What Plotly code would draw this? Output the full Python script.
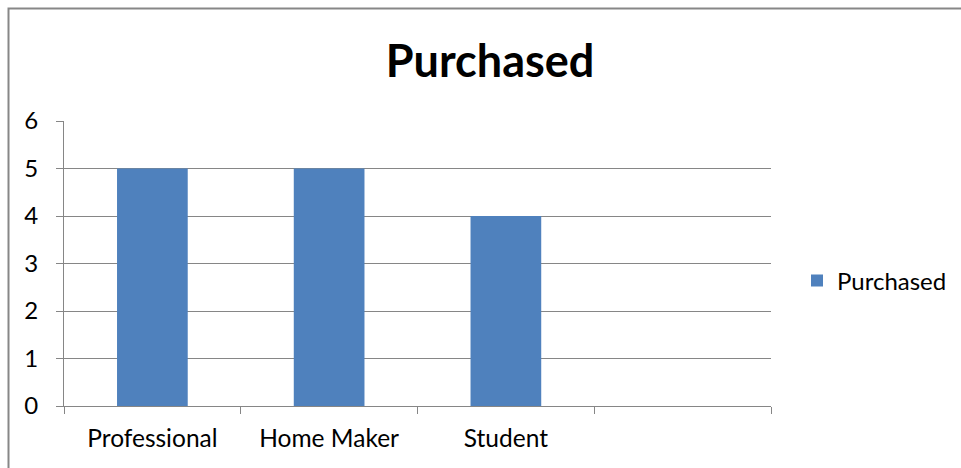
import plotly.graph_objects as go

categories = ["Professional", "Home Maker", "Student", " "]
purchased = [5, 5, 4, None]
series_name = "Purchased"
y_ticks = [0, 1, 2, 3, 4, 5, 6]

W, H = 961, 468
L, R, T, B = 64, 190, 121, 62
pw, ph = W - L - R, H - T - B

def px_x(p):
    return (p - L) / pw

def px_y(p):
    return (H - B - p) / ph

FONT = "Lato"
GRAY = "#868686"

fig = go.Figure()
fig.add_trace(go.Bar(
    x=categories, y=purchased, name=series_name,
    marker=dict(color="#4F81BD", line=dict(width=0)),
    width=0.4, showlegend=True,
))

fig.update_layout(
    width=W, height=H,
    margin=dict(l=L, r=R, t=T, b=B, autoexpand=False),
    paper_bgcolor="white", plot_bgcolor="white",
    font=dict(family=FONT, size=24, color="black"),
    title=dict(text="<b>Purchased</b>", x=0.51, xref="container", xanchor="center",
               y=1 - 61 / H, yref="container", yanchor="middle",
               font=dict(family=FONT, size=45, color="black")),
    showlegend=True,
    legend=dict(x=px_x(797), y=px_y(281), xanchor="left", yanchor="middle",
                font=dict(family=FONT, size=24), bgcolor="rgba(0,0,0,0)",
                itemwidth=30, tracegroupgap=0),
    bargap=0.6,
    xaxis=dict(type="category", categoryorder="array", categoryarray=categories,
               range=[-0.5, 3.5], tickson="boundaries", ticks="outside", ticklen=7,
               tickcolor=GRAY, tickwidth=1, showline=True, linecolor=GRAY, linewidth=1,
               showgrid=False, tickfont=dict(family=FONT, size=24.5), fixedrange=True,
               ticklabelstandoff=11),
    yaxis=dict(range=[0, 6], tickvals=y_ticks, ticks="outside", ticklen=7, tickcolor=GRAY,
               showline=True, linecolor=GRAY, linewidth=1, showgrid=True, gridcolor=GRAY,
               gridwidth=1, zeroline=False, tickfont=dict(family=FONT, size=24),
               ticklabelstandoff=13),
    shapes=[dict(type="rect", xref="paper", yref="paper",
                 x0=px_x(8.5), x1=px_x(990), y0=px_y(500), y1=px_y(8.5),
                 line=dict(color="#878787", width=2), fillcolor="rgba(0,0,0,0)",
                 layer="below")],
)

fig.write_html("out.html", config={"displayModeBar": False})

# remove the default 8px body margin so the figure fills the window exactly
with open("out.html", "r", encoding="utf-8") as f:
    html = f.read()
html = html.replace("<body>", '<body style="margin:0;overflow:hidden">', 1)
with open("out.html", "w", encoding="utf-8") as f:
    f.write(html)
